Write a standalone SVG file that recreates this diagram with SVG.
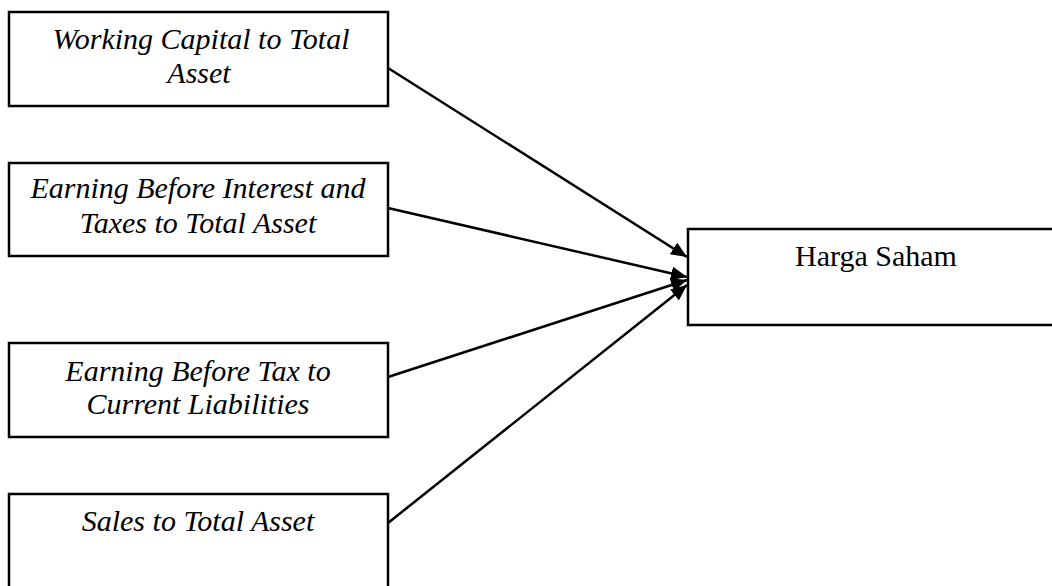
<svg xmlns="http://www.w3.org/2000/svg" width="1052" height="586" viewBox="0 0 1052 586">
  <style>
    .box { fill: #ffffff; stroke: #000000; stroke-width: 2.5; }
    .lbl { font-family: "Liberation Serif", "Times New Roman", serif; font-size: 30px; fill: #000000; text-anchor: middle; }
    .it { font-style: italic; }
    .conn { stroke: #000000; stroke-width: 2.5; fill: none; marker-end: url(#arrow); }
  </style>
  <defs>
    <marker id="arrow" markerUnits="userSpaceOnUse" markerWidth="18" markerHeight="16" refX="16" refY="7" orient="auto">
      <path d="M0,0 L16,7 L0,14 Z" fill="#000000"/>
    </marker>
  </defs>
  <rect width="1052" height="586" fill="#ffffff"/>

  <g id="node-wcta">
    <rect class="box" x="9" y="12" width="379" height="94"/>
    <text class="lbl it" x="201" y="49">Working Capital to Total</text>
    <text class="lbl it" x="199" y="83">Asset</text>
  </g>

  <g id="node-ebitta">
    <rect class="box" x="9" y="163" width="379" height="93"/>
    <text class="lbl it" x="198" y="198">Earning Before Interest and</text>
    <text class="lbl it" x="198" y="233">Taxes to Total Asset</text>
  </g>

  <g id="node-ebtcl">
    <rect class="box" x="9" y="343" width="379" height="94"/>
    <text class="lbl it" x="198" y="381">Earning Before Tax to</text>
    <text class="lbl it" x="198" y="414">Current Liabilities</text>
  </g>

  <g id="node-sta">
    <rect class="box" x="9" y="494" width="379" height="110"/>
    <text class="lbl it" x="198" y="531">Sales to Total Asset</text>
  </g>

  <g id="node-harga">
    <rect class="box" x="688" y="229" width="400" height="96"/>
    <text class="lbl" x="876" y="266">Harga Saham</text>
  </g>

  <g id="connectors">
    <line class="conn" x1="388" y1="68" x2="687" y2="257"/>
    <line class="conn" x1="388" y1="208" x2="687" y2="277"/>
    <line class="conn" x1="388" y1="377" x2="687" y2="280"/>
    <line class="conn" x1="388" y1="523" x2="687" y2="285"/>
  </g>
</svg>
